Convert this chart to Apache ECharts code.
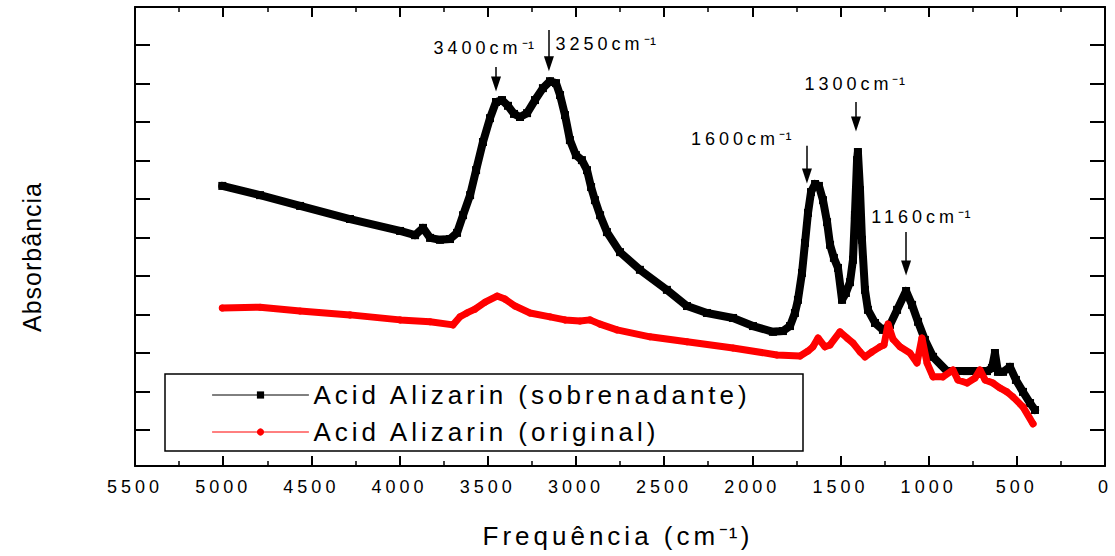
<!DOCTYPE html>
<html>
<head>
<meta charset="utf-8">
<script src="https://cdn.jsdelivr.net/npm/echarts@6/dist/echarts.min.js"></script>
<style>
  html, body { margin: 0; padding: 0; background: #fff; }
  #chart { width: 1115px; height: 556px; }
  #chart text { letter-spacing: 4px; }
</style>
</head>
<body>
<div id="chart"></div>
<script>
// ---------- data ----------
const seriesNames = ['Acid Alizarin (sobrenadante)', 'Acid Alizarin (original)'];

// black: sobrenadante
const wnSobrenadante = [5005, 4791, 4564, 4281, 3997, 3912, 3867, 3827, 3771, 3714, 3674, 3640, 3600, 3566, 3527, 3487, 3453, 3419, 3385, 3351, 3317, 3277, 3232, 3187, 3147, 3113, 3090, 3062, 3034, 3000, 2966, 2937, 2914, 2892, 2863, 2824, 2750, 2637, 2484, 2370, 2257, 2109, 1996, 1883, 1826, 1786, 1758, 1741, 1718, 1701, 1684, 1667, 1644, 1622, 1599, 1576, 1559, 1537, 1514, 1491, 1469, 1446, 1429, 1418, 1406, 1401, 1389, 1378, 1361, 1344, 1304, 1259, 1219, 1179, 1128, 1094, 1060, 1021, 975, 896, 782, 669, 641, 624, 607, 578, 539, 505, 465, 425, 397];
const absSobrenadante = [0.634, 0.610, 0.582, 0.548, 0.517, 0.506, 0.525, 0.499, 0.494, 0.496, 0.512, 0.558, 0.610, 0.675, 0.748, 0.810, 0.852, 0.857, 0.842, 0.821, 0.813, 0.823, 0.857, 0.888, 0.906, 0.901, 0.870, 0.818, 0.753, 0.714, 0.701, 0.675, 0.631, 0.597, 0.558, 0.514, 0.462, 0.416, 0.364, 0.322, 0.304, 0.291, 0.270, 0.255, 0.257, 0.270, 0.304, 0.338, 0.408, 0.486, 0.564, 0.618, 0.639, 0.634, 0.597, 0.540, 0.481, 0.447, 0.421, 0.338, 0.356, 0.384, 0.442, 0.558, 0.701, 0.722, 0.623, 0.494, 0.364, 0.312, 0.278, 0.260, 0.273, 0.312, 0.361, 0.325, 0.281, 0.234, 0.190, 0.153, 0.153, 0.153, 0.161, 0.200, 0.151, 0.151, 0.164, 0.130, 0.099, 0.070, 0.052];

// red: original
const wnOriginal = [5005, 4791, 4564, 4281, 3997, 3827, 3697, 3657, 3618, 3572, 3515, 3447, 3402, 3345, 3260, 3147, 3062, 2977, 2920, 2863, 2767, 2580, 2370, 2109, 1860, 1729, 1684, 1656, 1627, 1588, 1559, 1503, 1463, 1429, 1389, 1361, 1321, 1276, 1253, 1230, 1202, 1162, 1106, 1066, 1038, 1009, 975, 919, 862, 834, 782, 737, 709, 680, 635, 595, 556, 522, 465, 408];
const absOriginal = [0.317, 0.319, 0.309, 0.299, 0.286, 0.281, 0.273, 0.294, 0.304, 0.314, 0.332, 0.348, 0.340, 0.322, 0.304, 0.294, 0.286, 0.283, 0.286, 0.275, 0.260, 0.242, 0.229, 0.213, 0.195, 0.192, 0.205, 0.216, 0.239, 0.216, 0.221, 0.255, 0.239, 0.226, 0.203, 0.190, 0.203, 0.216, 0.221, 0.275, 0.236, 0.216, 0.200, 0.174, 0.239, 0.174, 0.138, 0.138, 0.156, 0.130, 0.122, 0.135, 0.156, 0.130, 0.122, 0.109, 0.099, 0.086, 0.060, 0.016];

// x axis ticks
const xMin = 0, xMax = 5500, xStep = 500;
// y axis (no labels) tick values
const yTicks = [0, 0.1, 0.2, 0.3, 0.4, 0.5, 0.6, 0.7, 0.8, 0.9, 1.0];
const yMin = -0.0935, yMax = 1.0987;

// peak annotations: label text, label anchor (wn, abs), arrow x, arrow top, arrow end
const peakText  = ['3400cm⁻¹', '3250cm⁻¹', '1600cm⁻¹', '1300cm⁻¹', '1160cm⁻¹'];
const peakTextX = [3521, 2829, 2061, 1418, 1043];
const peakTextY = [0.991, 1.003, 0.757, 0.900, 0.552];
const arrowX    = [3453, 3153, 1690, 1412, 1128];
const arrowTop  = [0.943, 1.039, 0.738, 0.852, 0.514];
const arrowEnd  = [0.899, 0.951, 0.660, 0.795, 0.421];

// ---------- chart ----------
const FONT = 'Liberation Sans';
const chart = echarts.init(document.getElementById('chart'), null, { renderer: 'svg' });

const pairs = (xs, ys) => xs.map((x, i) => [x, ys[i]]);

const xAxisCommon = {
  type: 'value', min: xMin, max: xMax, interval: xStep, inverse: true,
  axisLine: { show: true, onZero: false, lineStyle: { color: '#000', width: 2 } },
  axisTick: { show: true, inside: true, length: 10, lineStyle: { color: '#000', width: 2 } },
  minorTick: { show: true, splitNumber: 2, length: 5, lineStyle: { color: '#000', width: 1.5 } },
  splitLine: { show: false }
};
const yAxisCommon = {
  type: 'value', min: yMin, max: yMax,
  axisLine: { show: true, onZero: false, lineStyle: { color: '#000', width: 2 } },
  axisTick: { show: true, inside: true, length: 15, customValues: yTicks, lineStyle: { color: '#000', width: 2 } },
  axisLabel: { show: false },
  splitLine: { show: false }
};

const markLineData = arrowX.map((x, i) => [
  { coord: [x, arrowTop[i]], symbol: 'none' },
  { coord: [x, arrowEnd[i]], symbol: 'triangle', symbolSize: [10, 15] }
]);
const markPointData = peakText.map((t, i) => ({ name: t, coord: [peakTextX[i], peakTextY[i]] }));

chart.setOption({
  animation: false,
  backgroundColor: '#fff',
  textStyle: { fontFamily: FONT },
  grid: { left: 135, right: 10, top: 7, bottom: 90, containLabel: false, outerBoundsMode: 'none' },
  xAxis: [
    Object.assign({}, xAxisCommon, {
      position: 'bottom',
      axisLabel: { show: true, color: '#000', fontSize: 18, fontFamily: FONT, margin: 12,
                   formatter: v => String(v) }
    }),
    Object.assign({}, xAxisCommon, { position: 'top', axisLabel: { show: false } })
  ],
  yAxis: [
    Object.assign({}, yAxisCommon, { position: 'left' }),
    Object.assign({}, yAxisCommon, { position: 'right' })
  ],
  legend: {
    orient: 'vertical', left: 212, top: 382, padding: 0, itemGap: 11,
    itemWidth: 96, itemHeight: 9,
    data: seriesNames,
    textStyle: { fontSize: 26, fontFamily: FONT, color: '#000', lineHeight: 26 },
    lineStyle: { width: 1 },
    selectedMode: false
  },
  series: [
    {
      name: seriesNames[0], type: 'line', xAxisIndex: 0, yAxisIndex: 0,
      data: pairs(wnSobrenadante, absSobrenadante),
      symbol: 'rect', symbolSize: 8, showSymbol: true,
      itemStyle: { color: '#000' },
      lineStyle: { color: '#000', width: 8, join: 'round', cap: 'round' },
      emphasis: { disabled: true },
      z: 2,
      markLine: {
        silent: true, animation: false,
        symbol: ['none', 'triangle'],
        label: { show: false },
        lineStyle: { color: '#000', width: 1.5, type: 'solid' },
        itemStyle: { color: '#000' },
        emphasis: { disabled: true },
        data: markLineData
      },
      markPoint: {
        silent: true, animation: false,
        symbol: 'circle', symbolSize: 1,
        itemStyle: { color: 'rgba(0,0,0,0)' },
        label: { show: true, position: 'inside', formatter: '{b}', color: '#000',
                 fontSize: 18, fontFamily: FONT },
        data: markPointData
      }
    },
    {
      name: seriesNames[1], type: 'line', xAxisIndex: 0, yAxisIndex: 0,
      data: pairs(wnOriginal, absOriginal),
      symbol: 'circle', symbolSize: 7, showSymbol: true,
      itemStyle: { color: '#ff0000' },
      lineStyle: { color: '#ff0000', width: 7, join: 'round', cap: 'round' },
      emphasis: { disabled: true },
      z: 3
    }
  ],
  graphic: [
    { type: 'rect', silent: true, z: 10,
      shape: { x: 165, y: 374, width: 638, height: 77 },
      style: { fill: 'none', stroke: '#000', lineWidth: 1.5 } },
    { type: 'text', silent: true, x: 618, y: 536,
      style: { text: 'Frequência (cm⁻¹)', fontSize: 26, fontFamily: FONT, fill: '#000',
               align: 'center', verticalAlign: 'middle' } },
    { type: 'text', silent: true, x: 32, y: 257, rotation: Math.PI / 2,
      style: { text: 'Absorbância', fontSize: 25, fontFamily: FONT, fill: '#000',
               align: 'center', verticalAlign: 'middle' } }
  ]
});

const SUP = '⁻¹';
function applySpacing() {
  document.querySelectorAll('#chart text').forEach(t => {
    const txt = t.textContent;
    t.style.letterSpacing = (txt === 'Absorbância') ? '1px' : '4px';
    // keep the superscript "-1" tight while the rest of the text stays spaced
    if (txt.endsWith(SUP) && !t.querySelector('tspan.sup')) {
      const main = txt.slice(0, txt.length - SUP.length);
      let tail = '';
      let head = main;
      if (main.endsWith('(cm')) { /* title: "(cm⁻¹)" handled below */ }
      while (t.firstChild) t.removeChild(t.firstChild);
      t.appendChild(document.createTextNode(head));
      const s = document.createElementNS('http://www.w3.org/2000/svg', 'tspan');
      s.setAttribute('class', 'sup');
      s.style.letterSpacing = '0.5px';
      s.textContent = SUP;
      t.appendChild(s);
    } else if (txt.indexOf(SUP) > 0 && !t.querySelector('tspan.sup')) {
      const i = txt.indexOf(SUP);
      const before = txt.slice(0, i), after = txt.slice(i + SUP.length);
      while (t.firstChild) t.removeChild(t.firstChild);
      t.appendChild(document.createTextNode(before));
      const s = document.createElementNS('http://www.w3.org/2000/svg', 'tspan');
      s.setAttribute('class', 'sup');
      s.style.letterSpacing = '0.5px';
      s.textContent = SUP;
      t.appendChild(s);
      const a = document.createElementNS('http://www.w3.org/2000/svg', 'tspan');
      a.setAttribute('dx', '3');
      a.textContent = after;
      t.appendChild(a);
    }
  });
}
applySpacing();
setTimeout(applySpacing, 50);
</script>
</body>
</html>
